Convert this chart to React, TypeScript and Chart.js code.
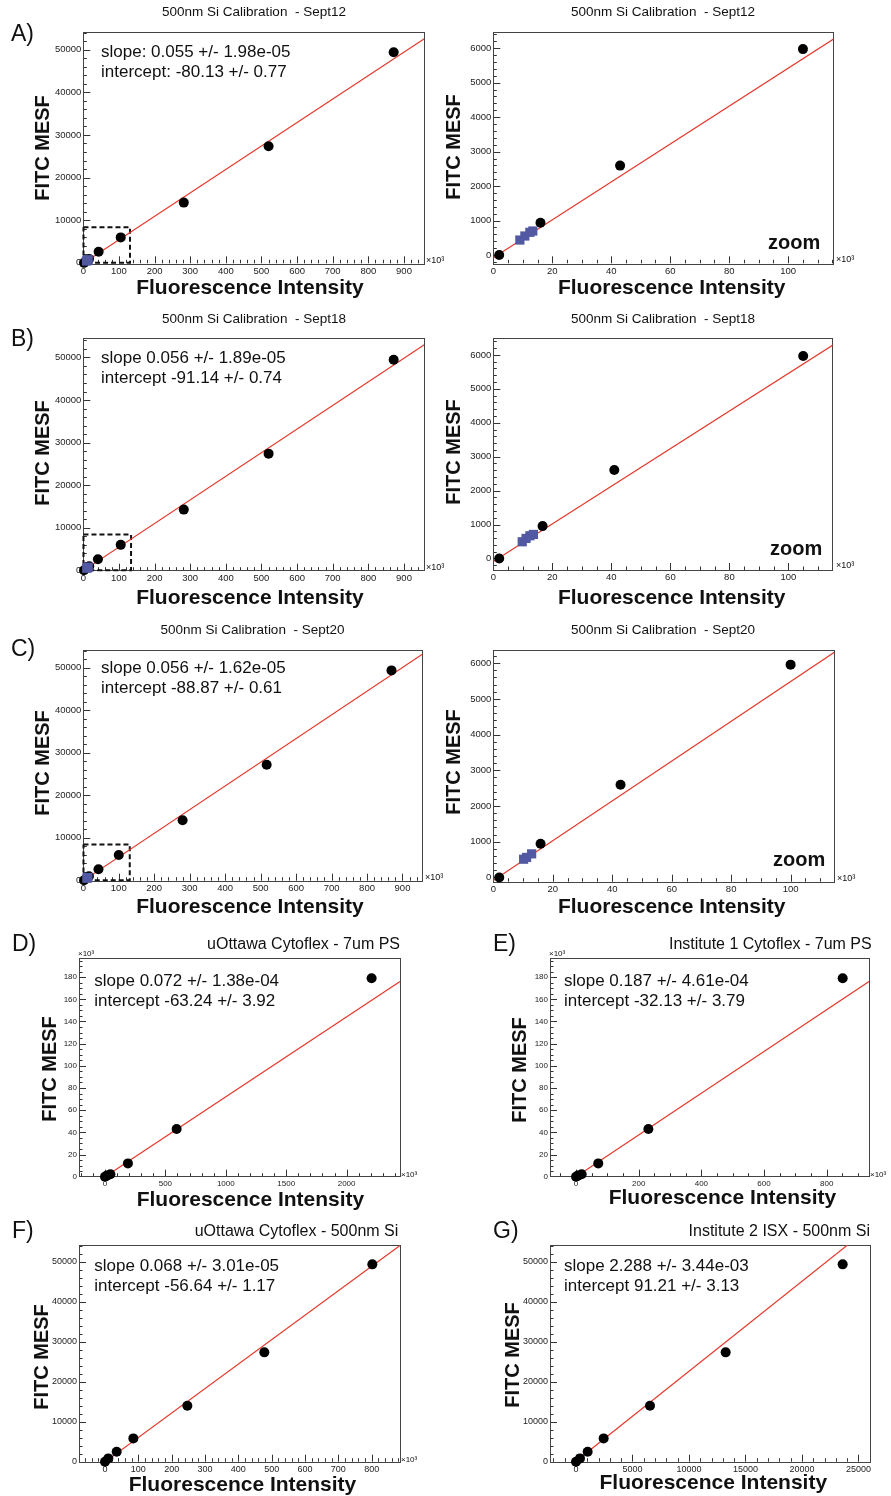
import React, { useEffect, useRef } from 'react';
import { Chart, registerables } from 'chart.js';
Chart.register(...registerables);

const FONT = '"Liberation Sans", Arial, Helvetica, sans-serif';

// ---------------- tick labels ----------------
const fullXTicks = [0, 100, 200, 300, 400, 500, 600, 700, 800, 900];
const fullYTicks = [0, 10000, 20000, 30000, 40000, 50000];
const zoomXTicks = [0, 20, 40, 60, 80, 100];
const zoomYTicks = [0, 1000, 2000, 3000, 4000, 5000, 6000];
const psXTicksD = [0, 500, 1000, 1500, 2000];
const psXTicksE = [0, 200, 400, 600, 800];
const psYTicks = [0, 20, 40, 60, 80, 100, 120, 140, 160, 180];
const siXTicksF = [0, 100, 200, 300, 400, 500, 600, 700, 800];
const siXTicksG = [0, 5000, 10000, 15000, 20000, 25000];

// ---------------- data (x in units of 10^3 where the axis shows ×10³) ----------------
// Sept12
const sep12X = [2, 16, 43, 105, 282, 520, 871];
const sep12Y = [0, 935, 2595, 5975, 14130, 27330, 49380];
const sep12BlueX = [9.0, 10.7, 12.4, 13.4];
const sep12BlueY = [435, 552, 659, 697];
const sep12FitX = [0, 957];
const sep12FitY = [-80, 52550];
const sep12BoxX = [0.5, 131, 131, 0.5, 0.5];
const sep12BoxY = [8340, 8340, 0, 0, 8340];
// Sept18
const sep18X = [2, 16.7, 41, 105, 282, 520, 871];
const sep18Y = [0, 954, 2606, 5970, 14250, 27400, 49460];
const sep18BlueX = [9.8, 11.1, 12.4, 13.6];
const sep18BlueY = [492, 590, 669, 708];
const sep18FitX = [0, 957];
const sep18FitY = [-91, 53000];
const sep18BoxX = [0.5, 134, 134, 0.5, 0.5];
const sep18BoxY = [8380, 8380, 0, 0, 8380];
// Sept20
const sep20X = [2, 15.9, 42.8, 100, 280, 517, 869];
const sep20Y = [0, 944, 2598, 5960, 14120, 27200, 49400];
const sep20BlueX = [10.2, 11.2, 12.9];
const sep20BlueY = [510, 560, 660];
const sep20FitX = [0, 957];
const sep20FitY = [-89, 53270];
const sep20BoxX = [0.5, 131, 131, 0.5, 0.5];
const sep20BoxY = [8400, 8400, 0, 0, 8400];
// D) uOttawa Cytoflex - 7um PS (both axes ×10³)
const dX = [0, 15, 45, 190, 593, 2207];
const dY = [0, 1.0, 2.2, 12.0, 43.0, 179.0];
const dFitX = [0, 2442];
const dFitY = [-0.06, 176];
// E) Institute 1 Cytoflex - 7um PS (both axes ×10³)
const eX = [0, 6, 18, 71, 231, 851];
const eY = [0, 1.0, 2.2, 12.0, 43.0, 179.0];
const eFitX = [0, 935];
const eFitY = [-0.03, 176];
// F) uOttawa Cytoflex - 500nm Si (x ×10³)
const fX = [0, 10, 35, 85, 247, 478, 802];
const fY = [0, 830, 2500, 5830, 14000, 27330, 49330];
const fFitX = [0, 885];
const fFitY = [-57, 54050];
// G) Institute 2 ISX - 500nm Si
const gX = [0, 354, 1032, 2448, 6549, 13245, 23600];
const gY = [0, 830, 2500, 5830, 14000, 27330, 49330];
const gFitX = [0, 26018];
const gFitY = [91, 58640];

// ---------------- helpers ----------------
const pts = (xs: number[], ys: number[]) => xs.map((x, i) => ({ x, y: ys[i] }));
const blackSet = (xs: number[], ys: number[]) => ({
  data: pts(xs, ys), pointRadius: 5, pointHoverRadius: 5, pointStyle: 'circle',
  backgroundColor: '#000', borderColor: '#000', borderWidth: 0, clip: false, showLine: false, order: 2,
});
const blueSet = (xs: number[], ys: number[]) => ({
  data: pts(xs, ys), pointRadius: 6.5, pointHoverRadius: 6.5, pointStyle: 'rect',
  backgroundColor: '#5258a2', borderColor: '#5258a2', borderWidth: 0, clip: false, showLine: false, order: 1,
});
const fitSet = (xs: number[], ys: number[]) => ({
  data: pts(xs, ys), showLine: true, pointRadius: 0, borderColor: '#e5392c', borderWidth: 1.2,
  backgroundColor: 'transparent', order: 3,
});
const boxSet = (xs: number[], ys: number[]) => ({
  data: pts(xs, ys), showLine: true, pointRadius: 0, borderColor: '#111', borderWidth: 2,
  borderDash: [5, 3], backgroundColor: 'transparent', clip: false, order: 4,
});

type Txt = { t: string; x: number; y: number; size: number; bold?: boolean; align?: CanvasTextAlign; base?: CanvasTextBaseline; rot?: boolean };
interface PanelSpec {
  box: [number, number, number, number];
  frame: [number, number, number, number];
  xr: [number, number]; yr: [number, number];
  xTicks: number[]; yTicks: number[];
  xMinor: number; yMinor: number;
  tickFont: number;
  datasets: any[];
  texts: Txt[];
}

const T = (t: string, x: number, y: number, size: number, extra: Partial<Txt> = {}): Txt => ({ t, x, y, size, ...extra });
const title13 = (t: string, x: number, y: number) => T(t, x, y, 13.5, { align: 'center', base: 'middle' });
const titleR = (t: string, x: number, y: number) => T(t, x, y, 16, { align: 'right', base: 'middle' });
const letter = (t: string, x: number, y: number) => T(t, x, y, 23, { align: 'left', base: 'middle' });
const fitTxt = (t: string, x: number, y: number) => T(t, x, y, 17, { align: 'left', base: 'alphabetic' });
const xTitle = (x: number, y: number) => T('Fluorescence Intensity', x, y, 21, { bold: true, align: 'center', base: 'middle' });
const yTitle = (x: number, y: number) => T('FITC MESF', x, y, 20, { bold: true, align: 'center', base: 'middle', rot: true });
const e3 = (x: number, y: number, size = 9) => T('×10³', x, y, size, { align: 'left', base: 'alphabetic' });
const zoomTxt = (x: number, y: number) => T('zoom', x, y, 20, { bold: true, align: 'left', base: 'alphabetic' });

const panels: PanelSpec[] = [
  {
    box: [0, 0, 445, 305], frame: [83.3, 31.7, 424.3, 263.3], xr: [0, 957], yr: [-100, 54200],
    xTicks: fullXTicks, yTicks: fullYTicks, xMinor: 20, yMinor: 2000, tickFont: 9.5,
    datasets: [blueSet(sep12BlueX, sep12BlueY), blackSet(sep12X, sep12Y), fitSet(sep12FitX, sep12FitY), boxSet(sep12BoxX, sep12BoxY)],
    texts: [title13('500nm Si Calibration  - Sept12', 254, 12), letter('A)', 11, 35),
      fitTxt('slope: 0.055 +/- 1.98e-05', 101, 57), fitTxt('intercept: -80.13 +/- 0.77', 101, 77),
      xTitle(250, 288), yTitle(43, 148), e3(426, 263)],
  },
  {
    box: [445, 0, 446, 305], frame: [493.3, 31.7, 833.3, 263.3], xr: [0, 115.3], yr: [-240, 6480],
    xTicks: zoomXTicks, yTicks: zoomYTicks, xMinor: 5, yMinor: 200, tickFont: 9.5,
    datasets: [blueSet(sep12BlueX, sep12BlueY), blackSet(sep12X, sep12Y), fitSet(sep12FitX, sep12FitY)],
    texts: [title13('500nm Si Calibration  - Sept12', 663, 12), zoomTxt(768, 249),
      xTitle(671.7, 288), yTitle(454, 147), e3(836, 262)],
  },
  {
    box: [0, 305, 445, 310], frame: [83.3, 338.3, 424.3, 570.7], xr: [0, 957], yr: [-100, 54500],
    xTicks: fullXTicks, yTicks: fullYTicks, xMinor: 20, yMinor: 2000, tickFont: 9.5,
    datasets: [blueSet(sep18BlueX, sep18BlueY), blackSet(sep18X, sep18Y), fitSet(sep18FitX, sep18FitY), boxSet(sep18BoxX, sep18BoxY)],
    texts: [title13('500nm Si Calibration  - Sept18', 254, 319.7), letter('B)', 11, 340),
      fitTxt('slope 0.056 +/- 1.89e-05', 101, 363), fitTxt('intercept -91.14 +/- 0.74', 101, 383),
      xTitle(250, 598), yTitle(43, 453), e3(426, 570)],
  },
  {
    box: [445, 305, 446, 310], frame: [493.3, 338.3, 832.7, 570], xr: [0, 115], yr: [-340, 6490],
    xTicks: zoomXTicks, yTicks: zoomYTicks, xMinor: 5, yMinor: 200, tickFont: 9.5,
    datasets: [blueSet(sep18BlueX, sep18BlueY), blackSet(sep18X, sep18Y), fitSet(sep18FitX, sep18FitY)],
    texts: [title13('500nm Si Calibration  - Sept18', 663, 319.7), zoomTxt(770, 555),
      xTitle(671.7, 598), yTitle(454, 452), e3(836, 568)],
  },
  {
    box: [0, 615, 445, 310], frame: [83.3, 650, 422.7, 880.7], xr: [0, 957], yr: [-100, 54200],
    xTicks: fullXTicks, yTicks: fullYTicks, xMinor: 20, yMinor: 2000, tickFont: 9.5,
    datasets: [blueSet(sep20BlueX, sep20BlueY), blackSet(sep20X, sep20Y), fitSet(sep20FitX, sep20FitY), boxSet(sep20BoxX, sep20BoxY)],
    texts: [title13('500nm Si Calibration  - Sept20', 252.5, 630.7), letter('C)', 11, 650),
      fitTxt('slope 0.056 +/- 1.62e-05', 101, 673), fitTxt('intercept -88.87 +/- 0.61', 101, 693),
      xTitle(250, 907.7), yTitle(43, 763), e3(425, 880)],
  },
  {
    box: [445, 615, 446, 310], frame: [493.3, 650, 834, 881.7], xr: [0, 114.6], yr: [-120, 6370],
    xTicks: zoomXTicks, yTicks: zoomYTicks, xMinor: 5, yMinor: 200, tickFont: 9.5,
    datasets: [blueSet(sep20BlueX, sep20BlueY), blackSet(sep20X, sep20Y), fitSet(sep20FitX, sep20FitY)],
    texts: [title13('500nm Si Calibration  - Sept20', 663, 630.7), zoomTxt(773, 866),
      xTitle(671.7, 907.7), yTitle(454, 762), e3(837, 881)],
  },
  {
    box: [0, 925, 445, 290], frame: [79, 958.3, 400, 1176.7], xr: [-215, 2442], yr: [0, 197],
    xTicks: psXTicksD, yTicks: psYTicks, xMinor: 100, yMinor: 5, tickFont: 8,
    datasets: [blackSet(dX, dY), fitSet(dFitX, dFitY)],
    texts: [titleR('uOttawa Cytoflex - 7um PS', 400, 945), letter('D)', 12, 945), e3(78, 956, 8),
      fitTxt('slope 0.072 +/- 1.38e-04', 94.3, 986), fitTxt('intercept -63.24 +/- 3.92', 94.3, 1006),
      xTitle(250.5, 1200), yTitle(50, 1069), e3(401, 1177, 8)],
  },
  {
    box: [445, 925, 446, 290], frame: [550, 958.3, 869, 1176.7], xr: [-83, 935], yr: [0, 197],
    xTicks: psXTicksE, yTicks: psYTicks, xMinor: 50, yMinor: 5, tickFont: 8,
    datasets: [blackSet(eX, eY), fitSet(eFitX, eFitY)],
    texts: [titleR('Institute 1 Cytoflex - 7um PS', 871.7, 945), letter('E)', 493, 945), e3(549, 956, 8),
      fitTxt('slope 0.187 +/- 4.61e-04', 564, 986), fitTxt('intercept -32.13 +/- 3.79', 564, 1006),
      xTitle(722.5, 1198.3), yTitle(520, 1070), e3(870, 1177, 8)],
  },
  {
    box: [0, 1215, 445, 281], frame: [79, 1245, 400, 1461.7], xr: [-78, 885], yr: [0, 54170],
    xTicks: siXTicksF, yTicks: fullYTicks, xMinor: 20, yMinor: 2000, tickFont: 9,
    datasets: [blackSet(fX, fY), fitSet(fFitX, fFitY)],
    texts: [titleR('uOttawa Cytoflex - 500nm Si', 398.3, 1232), letter('F)', 12, 1232),
      fitTxt('slope 0.068 +/- 3.01e-05', 94.3, 1271), fitTxt('intercept -56.64 +/- 1.17', 94.3, 1291),
      xTitle(242.5, 1485), yTitle(42, 1357), e3(401, 1462, 8)],
  },
  {
    box: [445, 1215, 446, 281], frame: [550, 1245, 870, 1461.7], xr: [-2300, 26018], yr: [0, 54170],
    xTicks: siXTicksG, yTicks: fullYTicks, xMinor: 1000, yMinor: 2000, tickFont: 9,
    datasets: [blackSet(gX, gY), fitSet(gFitX, gFitY)],
    texts: [titleR('Institute 2 ISX - 500nm Si', 870, 1232), letter('G)', 493, 1232),
      fitTxt('slope 2.288 +/- 3.44e-03', 564, 1271), fitTxt('intercept 91.21 +/- 3.13', 564, 1291),
      xTitle(713.3, 1483), yTitle(513, 1355)],
  },
];

const YW = 40;
const XH = 14;

function makeDecor(spec: PanelSpec) {
  const [ox, oy] = spec.box;
  return {
    id: 'rootDecor',
    beforeDatasetsDraw(chart: any) {
      const { ctx, chartArea: a } = chart;
      const xs = chart.scales.x, ys = chart.scales.y;
      ctx.save();
      ctx.strokeStyle = '#333';
      ctx.lineWidth = 1;
      ctx.beginPath();
      const near = (arr: number[], v: number) => arr.some((t) => Math.abs(t - v) < 1e-6);
      for (let k = Math.ceil(spec.xr[0] / spec.xMinor); k * spec.xMinor <= spec.xr[1] + 1e-9; k++) {
        const v = k * spec.xMinor;
        const px = Math.round(xs.getPixelForValue(v)) + 0.5;
        if (px < a.left || px > a.right) continue;
        const len = near(spec.xTicks, v) ? 7 : 3.5;
        ctx.moveTo(px, a.bottom);
        ctx.lineTo(px, a.bottom - len);
      }
      for (let k = Math.ceil(spec.yr[0] / spec.yMinor); k * spec.yMinor <= spec.yr[1] + 1e-9; k++) {
        const v = k * spec.yMinor;
        const py = Math.round(ys.getPixelForValue(v)) + 0.5;
        if (py < a.top || py > a.bottom) continue;
        const len = near(spec.yTicks, v) ? 7 : 3.5;
        ctx.moveTo(a.left, py);
        ctx.lineTo(a.left + len, py);
      }
      ctx.stroke();
      ctx.strokeStyle = '#444';
      ctx.strokeRect(Math.round(a.left) + 0.5, Math.round(a.top) + 0.5, Math.round(a.right - a.left), Math.round(a.bottom - a.top));
      ctx.restore();
    },
    afterDraw(chart: any) {
      const ctx = chart.ctx;
      for (const t of spec.texts) {
        ctx.save();
        ctx.fillStyle = '#111';
        ctx.font = `${t.bold ? 'bold ' : ''}${t.size}px ${FONT}`;
        ctx.textAlign = t.align || 'left';
        ctx.textBaseline = t.base || 'alphabetic';
        const x = t.x - ox, y = t.y - oy;
        if (t.rot) {
          ctx.translate(x, y);
          ctx.rotate(-Math.PI / 2);
          ctx.fillText(t.t, 0, 0);
        } else {
          ctx.fillText(t.t, x, y);
        }
        ctx.restore();
      }
    },
  };
}

function Panel({ spec }: { spec: PanelSpec }) {
  const ref = useRef<HTMLCanvasElement | null>(null);
  useEffect(() => {
    if (!ref.current) return;
    const [bx, by, bw, bh] = spec.box;
    const [fl, ft, fr, fb] = spec.frame;
    const pad = {
      left: fl - bx - YW,
      top: ft - by,
      right: bx + bw - fr,
      bottom: by + bh - fb - XH,
    };
    const tickCommon = (size: number) => ({
      font: { family: FONT, size },
      color: '#222',
      autoSkip: false,
      maxRotation: 0,
      minRotation: 0,
      callback: (v: any) => String(v),
    });
    const chart = new Chart(ref.current, {
      type: 'scatter',
      data: { datasets: spec.datasets as any },
      plugins: [makeDecor(spec) as any],
      options: {
        responsive: false,
        animation: false,
        events: [],
        layout: { padding: pad, autoPadding: false } as any,
        plugins: { legend: { display: false }, tooltip: { enabled: false } },
        scales: {
          x: {
            type: 'linear', position: 'bottom', min: spec.xr[0], max: spec.xr[1], bounds: 'data',
            grid: { display: false, drawTicks: false }, border: { display: false },
            ticks: { ...tickCommon(spec.tickFont), padding: 2 },
            afterBuildTicks: (s: any) => { s.ticks = spec.xTicks.map((v) => ({ value: v })); },
            afterFit: (s: any) => { s.height = XH; s.paddingLeft = 0; s.paddingRight = 0; },
          },
          y: {
            type: 'linear', position: 'left', min: spec.yr[0], max: spec.yr[1], bounds: 'data',
            grid: { display: false, drawTicks: false }, border: { display: false },
            ticks: { ...tickCommon(spec.tickFont), padding: 2 },
            afterBuildTicks: (s: any) => { s.ticks = spec.yTicks.map((v) => ({ value: v })); },
            afterFit: (s: any) => { s.width = YW; s.paddingTop = 0; s.paddingBottom = 0; },
          },
        },
      } as any,
    });
    return () => chart.destroy();
  }, [spec]);
  const [x, y, w, h] = spec.box;
  return (
    <canvas
      ref={ref}
      width={w}
      height={h}
      style={{ position: 'absolute', left: x, top: y, width: w, height: h }}
    />
  );
}

export default function App() {
  return (
    <div style={{ position: 'absolute', left: 0, top: 0, width: 891, height: 1496, background: '#fff', overflow: 'hidden' }}>
      {panels.map((p, i) => (
        <Panel key={i} spec={p} />
      ))}
    </div>
  );
}
